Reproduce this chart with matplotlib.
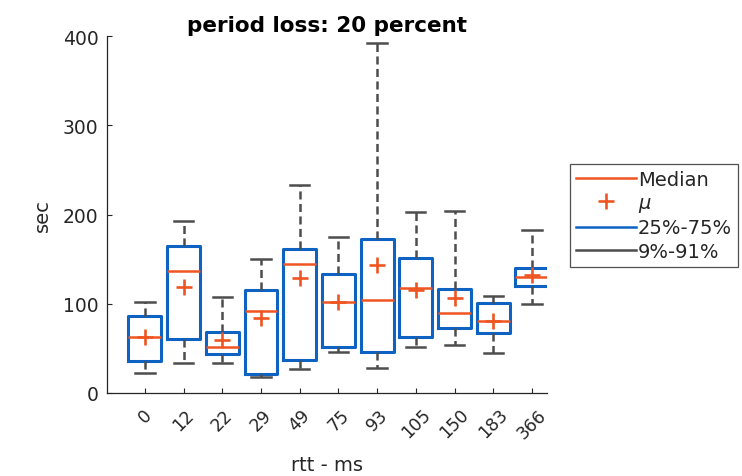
import matplotlib
matplotlib.use("Agg")
import matplotlib.pyplot as plt
from matplotlib.lines import Line2D

plt.rcParams['font.family'] = ['DejaVu Sans']
plt.rcParams['lines.scale_dashes'] = False

categories = ['0', '12', '22', '29', '49', '75', '93', '105', '150', '183', '366']
p9 = [22, 33, 33, 18, 27, 46, 28, 51, 54, 44, 99]
q25 = [36, 60, 43, 21, 37, 51, 46, 63, 73, 67, 120]
medians = [62, 137, 51, 92, 145, 102, 104, 118, 90, 81, 130]
means = [62, 119, 59, 84, 129, 102, 143, 115, 106, 81, 132]
q75 = [86, 165, 68, 115, 161, 133, 172, 151, 116, 101, 140]
p91 = [102, 193, 107, 150, 233, 175, 393, 203, 204, 109, 183]

BLUE = '#0E63C2'
ORANGE = '#EE5522'
GRAY = '#4D4D4D'
AX = '#262626'

stats = []
for i, c in enumerate(categories):
    stats.append(dict(label=c, whislo=p9[i], q1=q25[i], med=medians[i],
                      mean=means[i], q3=q75[i], whishi=p91[i], fliers=[]))

fig = plt.figure(figsize=(7.42, 4.77), dpi=100)
ax = fig.add_axes([107/742, 1-393.7/477, (547-107)/742, (393.7-37.3)/477])

positions = list(range(1, len(categories) + 1))
ax.bxp(stats, positions=positions, widths=0.85, capwidths=0.5,
       showmeans=True, showfliers=False,
       boxprops=dict(color=BLUE, linewidth=2.2),
       medianprops=dict(color=ORANGE, linewidth=1.8),
       whiskerprops=dict(color=GRAY, linewidth=1.8, linestyle=(0, (5.8, 3.2))),
       capprops=dict(color=GRAY, linewidth=1.8),
       meanprops=dict(marker='+', markersize=11, markeredgewidth=1.9,
                      markeredgecolor=ORANGE, color=ORANGE))

ax.set_xlim(0.02, 11.39)
ax.set_ylim(0, 400)
ax.set_yticks([0, 100, 200, 300, 400])
ax.set_xticks(positions)
ax.set_xticklabels(categories, rotation=45, ha='center', va='top')

for s in ['top', 'right']:
    ax.spines[s].set_visible(False)
for s in ['left', 'bottom']:
    ax.spines[s].set_color(AX)
    ax.spines[s].set_linewidth(0.9)

ax.tick_params(axis='both', direction='in', length=3.5, width=0.8, colors=AX,
               labelsize=13.5, labelcolor=AX)
ax.tick_params(axis='x', pad=9, labelsize=12.5)
ax.tick_params(axis='y', pad=6)

ax.set_title('period loss: 20 percent', fontsize=15.5, fontweight='bold',
             color='black', pad=4)
ax.set_xlabel('rtt - ms', fontsize=14, color=AX, va='center')
ax.xaxis.set_label_coords(0.5, (393.7 - 466) / (393.7 - 37.3))
ax.set_ylabel('sec', fontsize=14, color=AX, labelpad=8)

handles = [
    Line2D([], [], color=ORANGE, linewidth=1.8),
    Line2D([], [], color=ORANGE, marker='+', linestyle='None',
           markersize=11, markeredgewidth=1.9),
    Line2D([], [], color=BLUE, linewidth=1.8),
    Line2D([], [], color=GRAY, linewidth=1.8),
]
labels = ['Median', r'$\mu$', '25%-75%', '9%-91%']
leg = fig.legend(handles, labels, loc='upper left',
                 bbox_to_anchor=(570/742, 1-165/477), borderaxespad=0,
                 fontsize=14, frameon=True, fancybox=False,
                 handlelength=3.1, handletextpad=0.1, labelspacing=0.22,
                 borderpad=0.3)
leg.get_frame().set_edgecolor(AX)
leg.get_frame().set_linewidth(0.9)
for t in leg.get_texts():
    t.set_color(AX)

fig.savefig('out.png', dpi=100)
